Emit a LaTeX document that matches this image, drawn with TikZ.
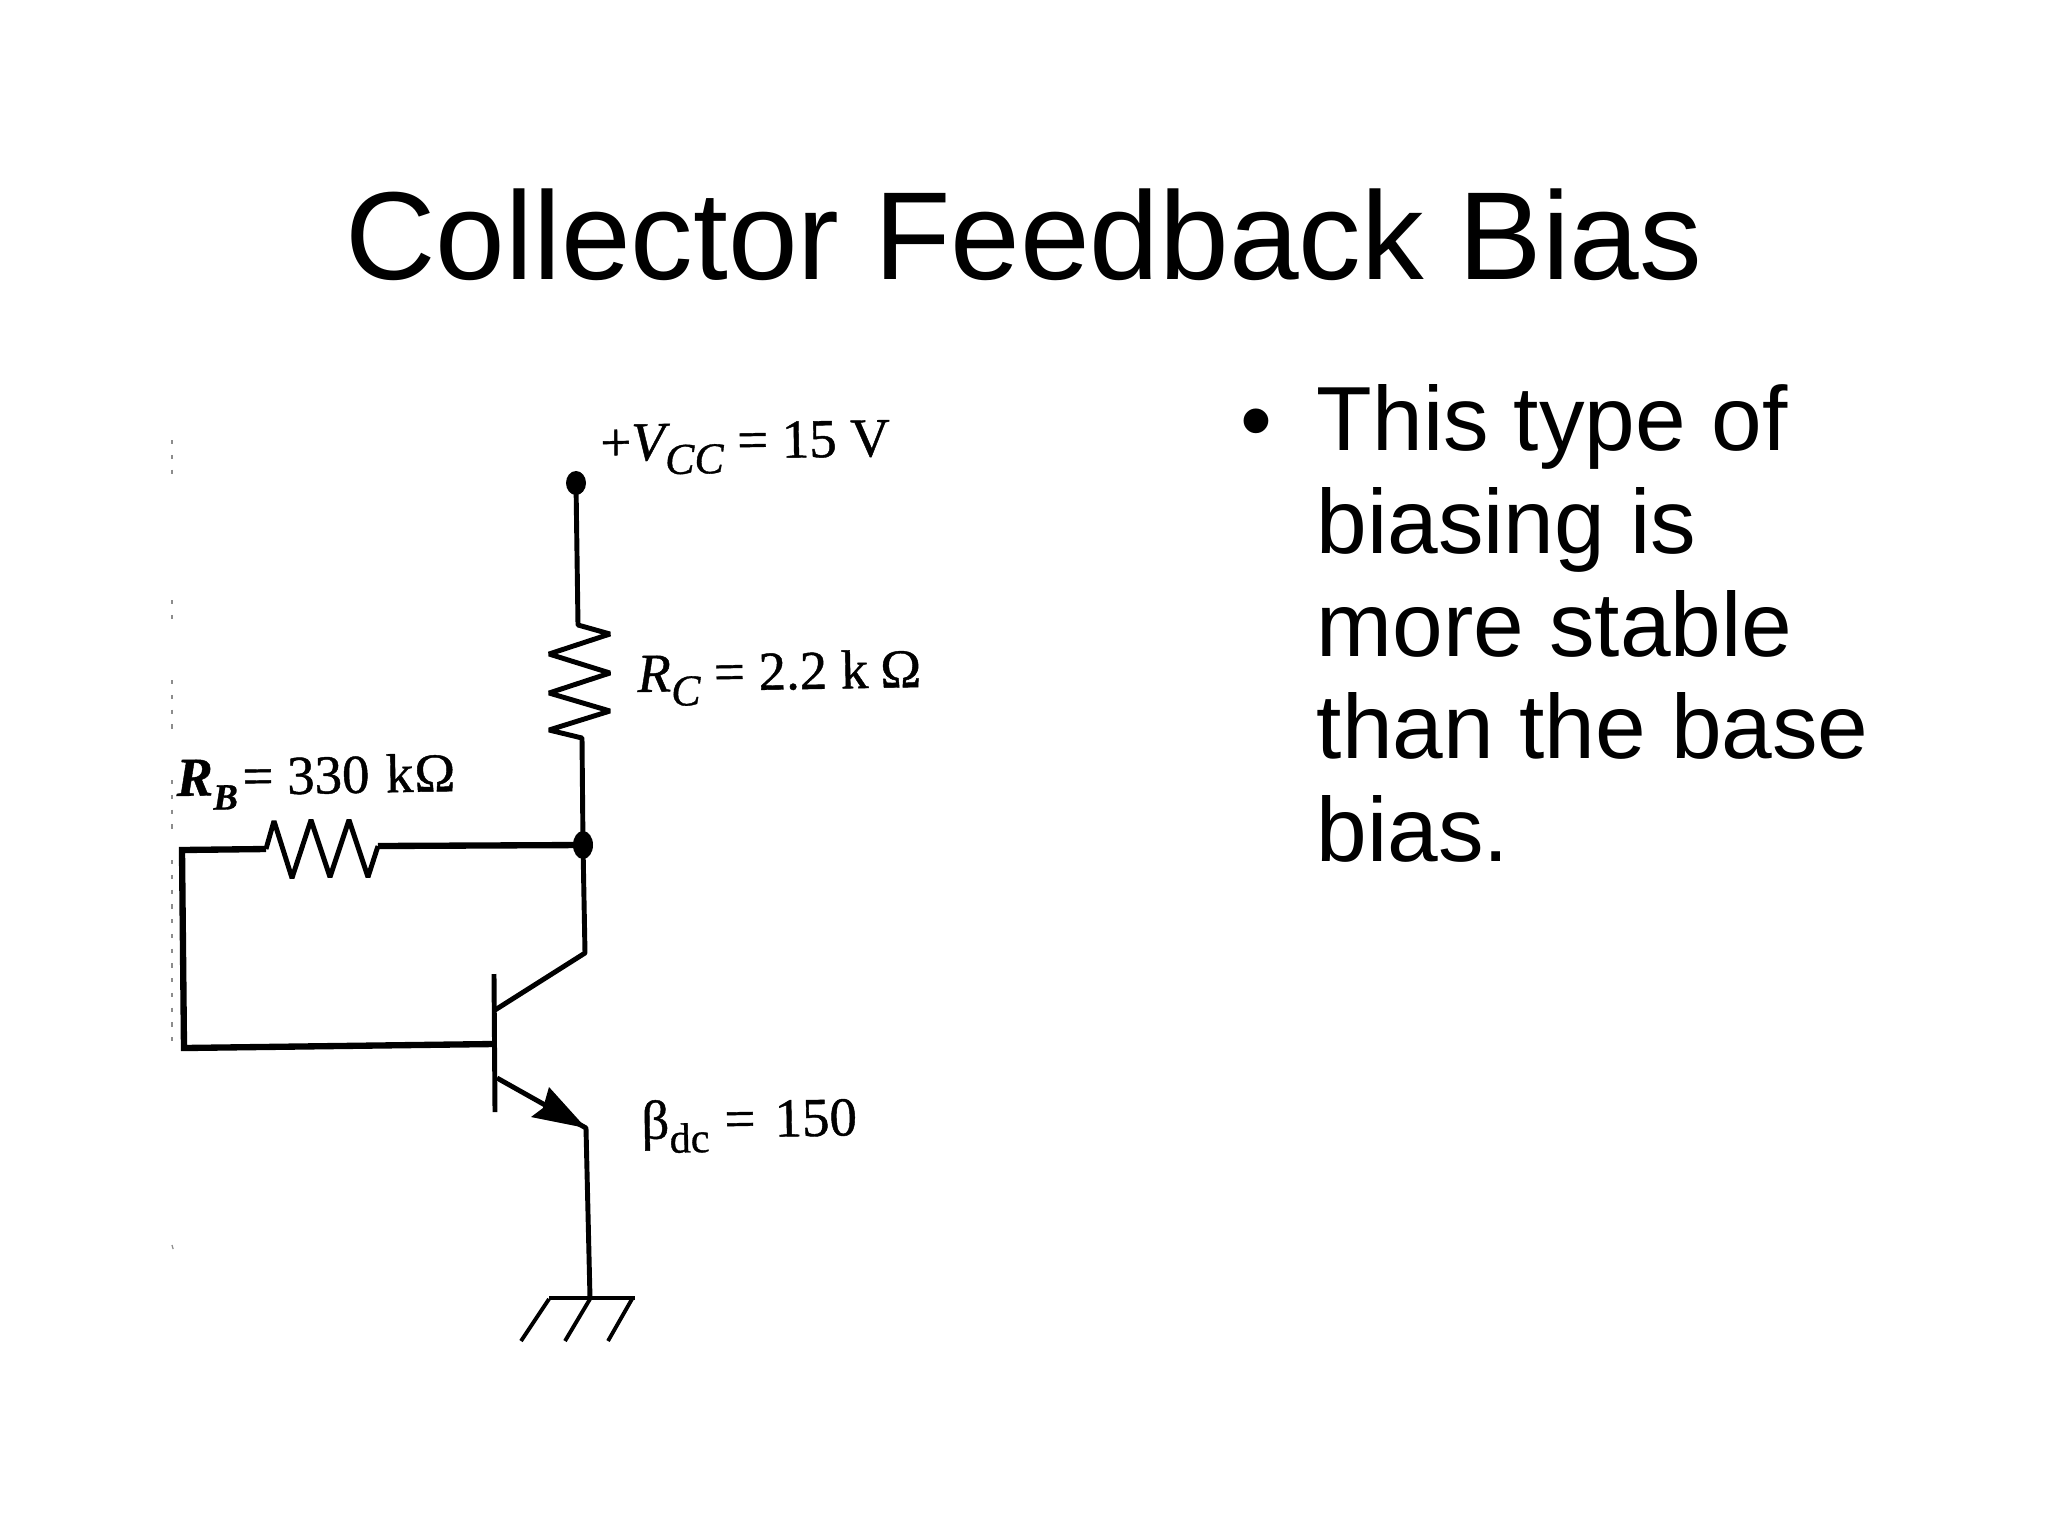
\documentclass[tikz,border=0pt]{standalone}
\usepackage{fontspec}
\setmainfont{Liberation Sans}
\newfontfamily\labelfont[FakeBold=0.8]{Liberation Serif}
\tikzset{
  wire/.style={line width=1.4pt,line join=bevel,line cap=butt},
  thickwire/.style={line width=1.8pt,line join=miter},
  thinwire/.style={line width=1.1pt,line join=miter},
  lab/.style={font=\labelfont\fontsize{15.6}{18}\selectfont,anchor=base west,inner sep=0pt,rotate=1},
  body/.style={font=\fontsize{25.9}{29.2}\selectfont,anchor=north west,inner sep=0pt,align=left},
  speck/.style={line width=0.35pt,black!45,dash pattern=on 1.2pt off 3pt}
}
\newcommand{\smallsub}[2][12.5]{\raisebox{-0.26em}{\fontsize{#1}{14}\selectfont #2}}
\begin{document}
\begin{tikzpicture}[x=0.01cm,y=-0.01cm]
\useasboundingbox (0,0) rectangle (2048,1536);
\fill[white] (0,0) rectangle (2048,1536);
% title and text
\node[font=\fontsize{35.6}{40}\selectfont,anchor=base,inner sep=0pt] (title) at (1024,279) {Collector Feedback Bias};
\node[font=\fontsize{25.9}{29}\selectfont,anchor=base,inner sep=0pt] (bullet) at (1256,451) {•};
\node[body] (bodytext) at (1316,384) {This type of\\biasing is\\more stable\\than the base\\bias.};
% coordinates
\coordinate (vcc) at (576,483);
\coordinate (rc0) at (578,625);
\coordinate (rc1) at (610,634);
\coordinate (rc2) at (549,654);
\coordinate (rc3) at (610,673);
\coordinate (rc4) at (549,693);
\coordinate (rc5) at (610,711);
\coordinate (rc6) at (549,730);
\coordinate (rc7) at (582,738);
\coordinate (junc) at (583,845);
\coordinate (cbend) at (585,953);
\coordinate (cbase) at (495,1010);
\coordinate (bartop) at (494,974);
\coordinate (barbot) at (495,1112);
\coordinate (base) at (494,1044);
\coordinate (lbot) at (184,1048);
\coordinate (ltop) at (182,850);
\coordinate (rb0) at (266,849);
\coordinate (rb1) at (274,821);
\coordinate (rb2) at (292,878);
\coordinate (rb3) at (311,820);
\coordinate (rb4) at (330,877);
\coordinate (rb5) at (349,820);
\coordinate (rb6) at (368,877);
\coordinate (rb7) at (378,846);
\coordinate (ebase) at (497,1078);
\coordinate (etip) at (586,1128);
\coordinate (gnd) at (590,1298);
\coordinate (gl) at (549,1298);
\coordinate (gr) at (635,1298);
\coordinate (h1a) at (549,1299);
\coordinate (h1b) at (521,1341);
\coordinate (h2a) at (590,1299);
\coordinate (h2b) at (565,1341);
\coordinate (h3a) at (632,1299);
\coordinate (h3b) at (608,1341);
\coordinate (abarb1) at (549,1087);
\coordinate (anotch) at (543,1108);
\coordinate (abarb2) at (531,1117);
% wires
\draw[wire] (vcc) -- (rc0) -- (rc1) -- (rc2) -- (rc3) -- (rc4) -- (rc5) -- (rc6) -- (rc7) -- (junc) -- (cbend) -- (cbase);
\draw[wire] (rb0) -- (rb1) -- (rb2) -- (rb3) -- (rb4) -- (rb5) -- (rb6) -- (rb7);
\draw[thickwire] (base) -- (lbot) -- (ltop) -- (rb0);
\draw[thickwire] (rb7) -- (junc);
\draw[wire] (bartop) -- (barbot);
\draw[wire] (ebase) -- (etip) -- (gnd);
\fill (etip) -- (abarb1) -- (anotch) -- (abarb2) -- cycle;
\draw[wire] (gl) -- (gr);
\draw[thinwire] (h1a) -- (h1b);
\draw[thinwire] (h2a) -- (h2b);
\draw[thinwire] (h3a) -- (h3b);
\fill (vcc) ellipse (10 and 12);
\fill (junc) ellipse (10 and 14);
% labels
\node[lab] (lvcc) at (600,461) {+{\itshape V}\smallsub{\itshape CC} = 15 V};
\node[lab] (lrc) at (637,692) {{\itshape R}\smallsub{\itshape C} = 2.2 k\kern0.22emΩ};
\node[lab] (lrb) at (176,796) {{\bfseries\itshape R}\smallsub[10.5]{\bfseries\itshape B}\kern-0.16em\ = 330 \kern0.05em k\kern0.02emΩ};
\node[lab] (lbeta) at (641,1139) {β\smallsub[12]{dc}\kern0.03em\ = \kern0.1em150};
% scan specks along the left edge
\draw[speck] (172,440) -- (172,478);
\draw[speck] (172,600) -- (172,625);
\draw[speck] (172,680) -- (172,730);
\draw[speck] (172,780) -- (172,835);
\draw[speck] (172,860) -- (172,1052);
\draw[speck] (172,1245) -- (174,1252);
\end{tikzpicture}
\end{document}
